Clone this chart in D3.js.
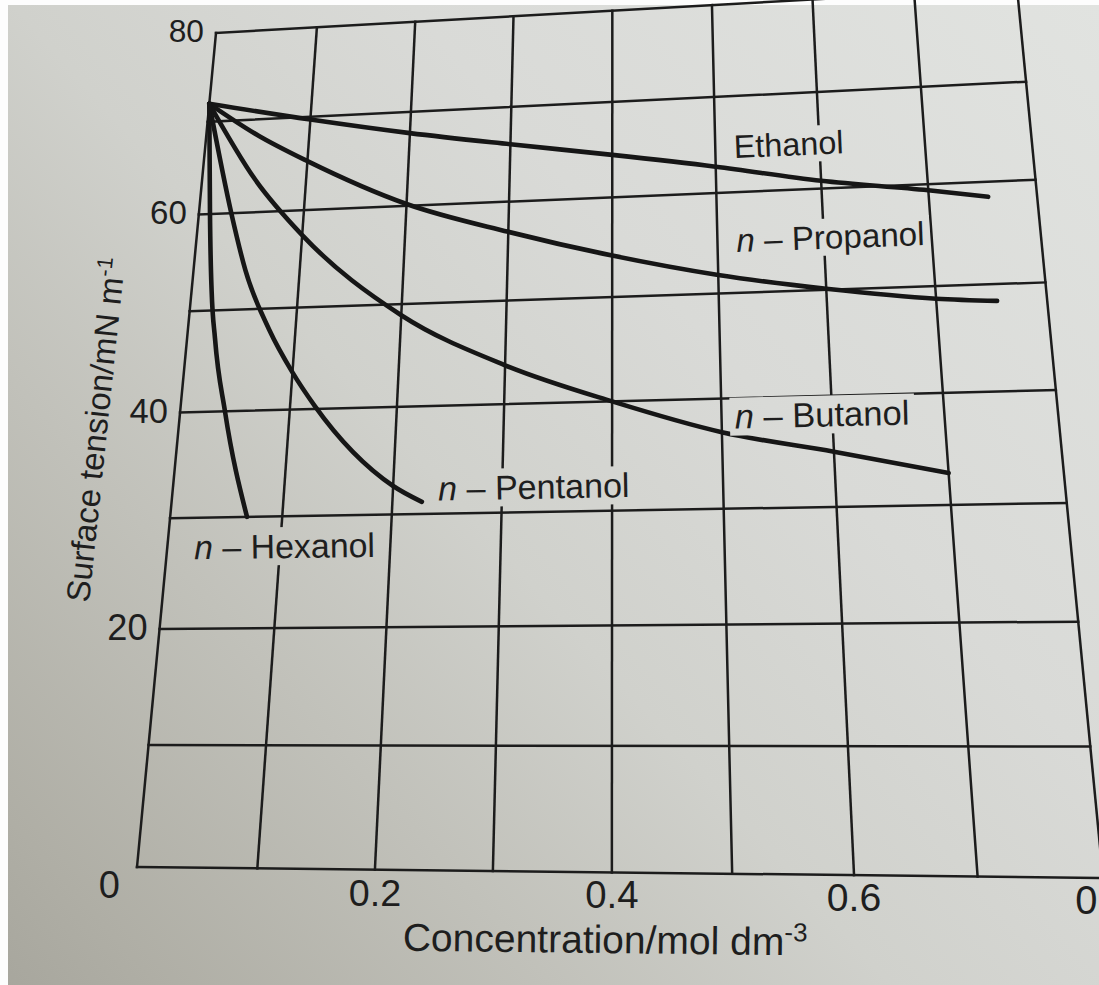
<!DOCTYPE html>
<html>
<head>
<meta charset="utf-8">
<script src="https://cdn.jsdelivr.net/npm/d3@7"></script>
<style>
  body { margin: 0; background: #ffffff; }
  svg { display: block; }
  text { font-family: "Liberation Sans", Arial, sans-serif; fill: #1e1e1e; }
</style>
</head>
<body>
<div id="chart"></div>
<script>
var w = 1099, h = 985;

// concentration (mol dm-3) / surface tension (mN m-1)
var ethanolConc = [0, 0.1, 0.2, 0.3, 0.4, 0.5, 0.6, 0.7, 0.755];
var ethanolTension = [72, 69.7, 67.7, 66.0, 64.4, 62.7, 60.8, 59.4, 58.5];
var propanolConc = [0, 0.05, 0.1, 0.2, 0.3, 0.4, 0.5, 0.6, 0.7, 0.755];
var propanolTension = [72, 68.2, 65.2, 60.2, 56.9, 54.1, 51.8, 50.1, 48.8, 48.4];
var butanolConc = [0, 0.05, 0.1, 0.2, 0.3, 0.4, 0.5, 0.6, 0.7];
var butanolTension = [72, 63.5, 57.4, 48.9, 43.7, 40.0, 36.9, 34.9, 32.8];
var pentanolConc = [0, 0.03, 0.048, 0.075, 0.1, 0.123, 0.2, 0.227];
var pentanolTension = [72, 60, 54, 47.9, 43.6, 40.3, 32.6, 31.1];
var hexanolConc = [0, 0.01, 0.018, 0.025, 0.04, 0.068];
var hexanolTension = [72, 60, 52, 47.2, 40, 30];

var seriesNames = ["Ethanol", "n – Propanol", "n – Butanol", "n – Pentanol", "n – Hexanol"];
var xTicks = [0.2, 0.4, 0.6, 0.8];
var yTicks = [0, 20, 40, 60, 80];

// where each curve name sits (data units)
var labelAt = [[0.518, 63.5], [0.518, 54.0], [0.512, 37.2], [0.242, 31.2], [0.024, 26.2]];

var series = [
  { x: ethanolConc, y: ethanolTension },
  { x: propanolConc, y: propanolTension },
  { x: butanolConc, y: butanolTension },
  { x: pentanolConc, y: pentanolTension },
  { x: hexanolConc, y: hexanolTension }
];

var svg = d3.select("#chart").append("svg").attr("width", w).attr("height", h);

// paper background (photo is darker bottom-left)
var grad = svg.append("defs").append("linearGradient")
  .attr("id", "paper").attr("gradientUnits", "userSpaceOnUse")
  .attr("x1", w).attr("y1", 0).attr("x2", 0).attr("y2", h);
[[0, "#e1e3e0"], [0.35, "#d9dad7"], [0.55, "#d0d1cc"], [0.72, "#c1c1ba"], [0.92, "#afaea5"], [1, "#a7a69d"]]
  .forEach(function(s) { grad.append("stop").attr("offset", s[0]).attr("stop-color", s[1]); });

svg.append("rect").attr("width", w).attr("height", h).attr("fill", "#fdfdfd");
svg.append("rect").attr("x", 8).attr("y", 5).attr("width", w - 8).attr("height", h - 5).attr("fill", "url(#paper)");

// scales to the unit square, then a perspective map onto the photographed page
var xScale = d3.scalePow().exponent(0.97).domain([0, 0.8]).range([0, 1]);
var yScale = d3.scaleLinear().domain([0, 80]).range([0, 1]);

// corners (0,0), (0.8,0), (0.8,80), (0,80) as they sit in the photo
var corners = [[137, 867], [1103, 878], [1017, -12], [216, 33]];

function homography(q) {
  var x0 = q[0][0], y0 = q[0][1], x1 = q[1][0], y1 = q[1][1];
  var x2 = q[2][0], y2 = q[2][1], x3 = q[3][0], y3 = q[3][1];
  var dx1 = x1 - x2, dx2 = x3 - x2, dx3 = x0 - x1 + x2 - x3;
  var dy1 = y1 - y2, dy2 = y3 - y2, dy3 = y0 - y1 + y2 - y3;
  var den = dx1 * dy2 - dx2 * dy1;
  var g = (dx3 * dy2 - dx2 * dy3) / den, k = (dx1 * dy3 - dx3 * dy1) / den;
  var a = x1 - x0 + g * x1, b = x3 - x0 + k * x3;
  var d = y1 - y0 + g * y1, e = y3 - y0 + k * y3;
  return function(u, v) {
    var z = g * u + k * v + 1;
    return [(a * u + b * v + x0) / z, (d * u + e * v + y0) / z, 1 / z];
  };
}
var persp = homography(corners);
function project(x, y) { return persp(xScale(x), yScale(y)); }
function angleAt(x, y) {
  var p = project(x, y), q = project(x + 0.05, y);
  return Math.atan2(q[1] - p[1], q[0] - p[0]) * 180 / Math.PI;
}

// grid
var grid = svg.append("g").attr("stroke", "#1c1c1c").attr("stroke-width", 2.5).attr("stroke-linecap", "square");
grid.selectAll("line.v").data(xScale.ticks(8)).enter().append("line").attr("class", "v")
  .attr("x1", function(d) { return project(d, 0)[0]; })
  .attr("y1", function(d) { return project(d, 0)[1]; })
  .attr("x2", function(d) { return project(d, 80)[0]; })
  .attr("y2", function(d) { return project(d, 80)[1]; });
grid.selectAll("line.hz").data(yScale.ticks(8)).enter().append("line").attr("class", "hz")
  .attr("x1", function(d) { return project(0, d)[0]; })
  .attr("y1", function(d) { return project(0, d)[1]; })
  .attr("x2", function(d) { return project(0.8, d)[0]; })
  .attr("y2", function(d) { return project(0.8, d)[1]; });

// curves
var line = d3.line().curve(d3.curveMonotoneX);
svg.append("g").selectAll("path").data(series).enter().append("path")
  .attr("fill", "none").attr("stroke", "#161616").attr("stroke-width", 4.6)
  .attr("stroke-linecap", "round").attr("stroke-linejoin", "round")
  .attr("d", function(s) { return line(s.x.map(function(c, i) { return project(c, s.y[i]); })); });

// curve names, with the page cleared behind them as in the book
var knock = svg.append("g");
var names = svg.append("g");
seriesNames.forEach(function(name, i) {
  var at = labelAt[i];
  var p = project(at[0], at[1]);
  var ang = angleAt(at[0], at[1]);
  var fs = 36 * p[2];
  var g = names.append("g").attr("transform", "translate(" + p[0] + "," + p[1] + ") rotate(" + ang + ")");
  var t = g.append("text").attr("font-size", fs.toFixed(1));
  if (name.indexOf("n ") === 0) {
    t.append("tspan").attr("font-style", "italic").text("n");
    t.append("tspan").text(name.slice(1));
  } else {
    t.text(name);
  }
  var bb = t.node().getBBox();
  var r = ang * Math.PI / 180, cs = Math.cos(r), sn = Math.sin(r);
  var pts = [[bb.x - 5, bb.y], [bb.x + bb.width + 5, bb.y], [bb.x + bb.width + 5, bb.y + bb.height], [bb.x - 5, bb.y + bb.height]]
    .map(function(c) { return [p[0] + c[0] * cs - c[1] * sn, p[1] + c[0] * sn + c[1] * cs].join(","); });
  knock.append("polygon").attr("points", pts.join(" ")).attr("fill", "url(#paper)");
});

// tick labels
svg.append("g").selectAll("text").data(xTicks).enter().append("text")
  .attr("text-anchor", "middle")
  .attr("font-size", function(d) { return (37 * project(d, 0)[2]).toFixed(1); })
  .attr("x", function(d) { return project(d, 0)[0]; })
  .attr("y", function(d) { return project(d, 0)[1] + 36; })
  .text(function(d) { return d; });

svg.append("g").selectAll("text").data(yTicks).enter().append("text")
  .attr("text-anchor", "end")
  .attr("font-size", function(d) { return (38 * project(0, d)[2]).toFixed(1); })
  .attr("x", function(d) { return project(0, d)[0] + (d === 0 ? -17 : -12); })
  .attr("y", function(d) { var p = project(0, d); return p[1] + 0.36 * 38 * p[2] + (d === 0 ? 17 : -2); })
  .text(function(d) { return d; });

// axis titles
var xt = svg.append("text").attr("text-anchor", "middle").attr("font-size", 39)
  .attr("transform", "translate(605,953) rotate(" + angleAt(0.4, 0) + ")");
xt.append("tspan").text("Concentration/mol dm");
xt.append("tspan").attr("font-size", 26).attr("dy", -14).text("-3");

var yt = svg.append("text").attr("text-anchor", "middle").attr("font-size", 33)
  .attr("transform", "translate(107,431) rotate(-84)");
yt.append("tspan").text("Surface tension/mN m");
yt.append("tspan").attr("font-size", 22).attr("dy", -12).text("-1");
</script>
</body>
</html>
